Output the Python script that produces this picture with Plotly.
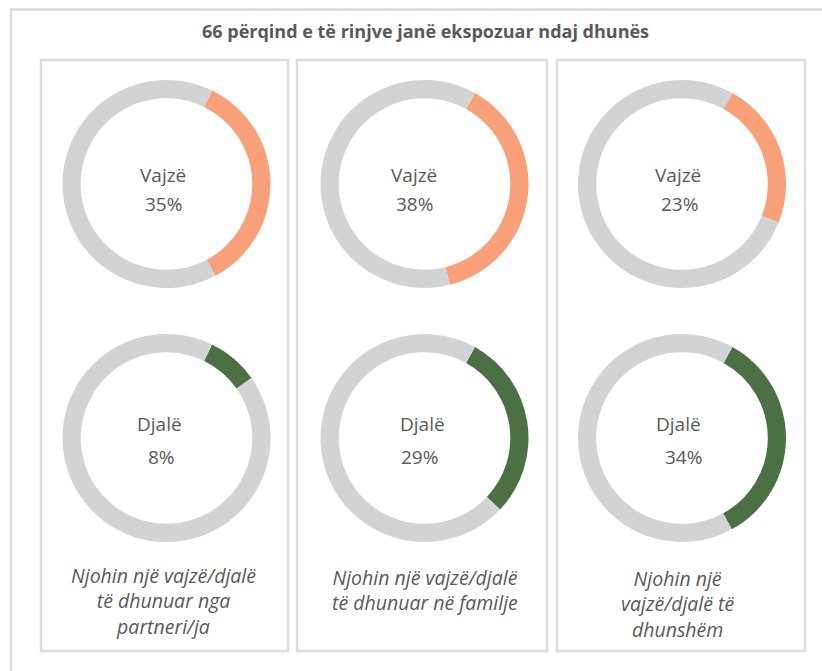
import plotly.graph_objects as go

W, H = 822, 671

# ---- data ----
title_text = "66 përqind e të rinjve janë ekspozuar ndaj dhunës"
groups = ["Vajzë", "Djalë"]
girls_pct = [35, 38, 23]
boys_pct = [8, 29, 34]
captions = [
    "Njohin një vajzë/djalë<br>të dhunuar nga<br>partneri/ja",
    "Njohin një vajzë/djalë<br>të dhunuar në familje",
    "Njohin një<br>vajzë/djalë të<br>dhunshëm",
]

# ---- style ----
ORANGE = "#F7A07A"
GREEN = "#4A7043"
GREY = "#D2D3D5"
TXT = "#595959"
BORDER = "#DCDCDC"
FONT = "Open Sans"

centers_x = [166.5, 424.5, 682.0]
centers_y = [184.0, 438.0]
R = 104.0
rotations = [26, 29, 29]
panels = [(41, 288), (297, 547), (557, 805)]
panel_top, panel_bottom = 60, 651

def px(x):
    return x / W

def py(y):
    return 1 - y / H

fig = go.Figure()

rows = [(girls_pct, ORANGE, groups[0]), (boys_pct, GREEN, groups[1])]
label_dx = [[-4, -11, -4], [-7, -2, -4]]
pct_dx = [[-3, -10, -3], [-5, -5, 1]]
annotations = []
for r, (vals, col, label) in enumerate(rows):
    cy = centers_y[r]
    for i, v in enumerate(vals):
        cx = centers_x[i]
        fig.add_trace(go.Pie(
            values=[v, 100 - v],
            labels=[label, "other"],
            hole=0.825,
            sort=False,
            direction="clockwise",
            rotation=rotations[i],
            marker=dict(colors=[col, GREY], line=dict(width=0)),
            textinfo="none",
            hoverinfo="label+value",
            showlegend=False,
            domain=dict(x=[px(cx - R), px(cx + R)], y=[py(cy + R), py(cy - R)]),
        ))
        annotations.append(dict(
            x=px(cx + label_dx[r][i]), y=py(cy - 9 if r == 0 else cy - 14),
            xref="paper", yref="paper", xanchor="center", yanchor="middle",
            text=label, showarrow=False,
            font=dict(family=FONT, size=19, color=TXT),
        ))
        annotations.append(dict(
            x=px(cx + pct_dx[r][i]), y=py(cy + 20 if r == 0 else cy + 19),
            xref="paper", yref="paper", xanchor="center", yanchor="middle",
            text=f"{v}%", showarrow=False,
            font=dict(family=FONT, size=19, color=TXT),
        ))

# captions
cap_y = [601, 590, 604]
cap_x = [163, 425, 677]
for i, cap in enumerate(captions):
    annotations.append(dict(
        x=px(cap_x[i]), y=py(cap_y[i]), xref="paper", yref="paper",
        xanchor="center", yanchor="middle",
        text=f"<i>{cap}</i>", showarrow=False, align="center",
        font=dict(family=FONT, size=19.5, color=TXT),
    ))

# title
annotations.append(dict(
    x=px(425), y=py(31), xref="paper", yref="paper",
    xanchor="center", yanchor="middle",
    text=f"<b>{title_text}</b>", showarrow=False,
    font=dict(family=FONT, size=18, color=TXT),
))

shapes = [dict(type="rect", xref="paper", yref="paper",
               x0=px(11), x1=px(840), y0=py(700), y1=py(9.5),
               line=dict(color=BORDER, width=2.5), fillcolor="rgba(0,0,0,0)")]
for (x0, x1) in panels:
    shapes.append(dict(type="rect", xref="paper", yref="paper",
                       x0=px(x0), x1=px(x1), y0=py(panel_bottom), y1=py(panel_top),
                       line=dict(color=BORDER, width=2.5), fillcolor="rgba(0,0,0,0)"))

fig.update_layout(
    width=W, height=H,
    margin=dict(l=0, r=0, t=0, b=0),
    paper_bgcolor="white", plot_bgcolor="white",
    annotations=annotations, shapes=shapes,
    font=dict(family=FONT, color=TXT),
)

fig.write_html("out.html",
               config={"displayModeBar": False},
               post_script="document.body.style.margin='0px';document.body.style.overflow='hidden';")
